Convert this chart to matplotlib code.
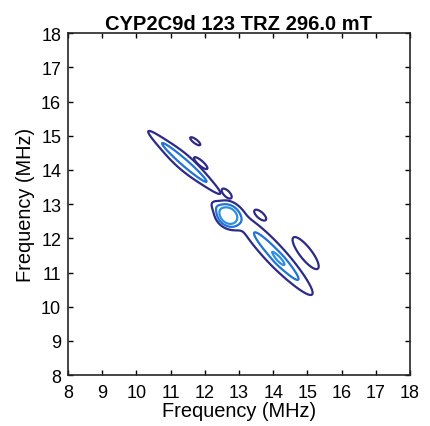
import numpy as np
import matplotlib
matplotlib.use("Agg")
import matplotlib.pyplot as plt

plt.rcParams['font.family'] = ['Liberation Sans', 'DejaVu Sans']

# Peaks: centre, spread along / across the ridge, ridge tilt, height
# peaks sharing a group number form one connected feature
peak_group = [0, 0, 1, 2, 3, 4, 4, 4, 4, 4, 5, 6]
peak_x = [11.40, 11.40, 11.72, 11.88, 12.64, 12.68, 12.33, 14.12, 13.98, 14.18, 13.62, 14.95]
peak_y = [14.22, 14.22, 14.84, 14.20, 13.31, 12.66, 12.93, 11.45, 11.60, 11.36, 12.68, 11.57]
sigma_long = [0.80, 1.10, 0.25, 0.35, 0.26, 0.21, 0.20, 0.69, 1.60, 0.18, 0.30, 0.80]
sigma_short = [0.07, 0.28, 0.08, 0.10, 0.12, 0.17, 0.11, 0.10, 0.34, 0.09, 0.13, 0.24]
tilt = [-41, -41, -37, -41, -45, -40, -40, -47, -47, -47, -41, -52]
height = [1.8, 1.35, 1.3, 1.3, 1.3, 6.5, 0.75, 2.1, 1.4, 0.5, 1.3, 1.3]

levels = [1.0, 2.0, 3.5]
level_colors = ['#2d2a88', '#1f74d6', '#2b8fe2']
ticks = list(range(8, 19))

f = np.linspace(8, 18, 601)
X, Y = np.meshgrid(f, f)

fig = plt.figure(figsize=(4.31, 4.27), dpi=100)
ax = fig.add_axes([0.158, 0.119, 0.793, 0.801])

for g in sorted(set(peak_group)):
    Z = np.zeros_like(X)
    for i in range(len(peak_group)):
        if peak_group[i] != g:
            continue
        t = np.deg2rad(tilt[i])
        dx, dy = X - peak_x[i], Y - peak_y[i]
        u = dx * np.cos(t) + dy * np.sin(t)
        v = -dx * np.sin(t) + dy * np.cos(t)
        Z += height[i] * np.exp(-0.5 * (u / sigma_long[i]) ** 2 - 0.5 * (v / sigma_short[i]) ** 2)
    ax.contour(X, Y, Z, levels=levels, colors=level_colors, linewidths=1.6)

ax.set_xlim(8, 18)
ax.set_ylim(8, 18)
ax.set_xticks(ticks)
ax.set_yticks(ticks)
ax.tick_params(axis='x', pad=6)
ax.tick_params(axis='y', pad=5)
ax.tick_params(direction='in', top=True, right=True, length=3.5, width=1,
               labelsize=13)
for s in ax.spines.values():
    s.set_linewidth(1.2)
    s.set_color('#262626')
ax.set_xlabel('Frequency (MHz)', fontsize=14.4, labelpad=0)
ax.set_ylabel('Frequency (MHz)', fontsize=14.4, labelpad=4)
ax.set_title('CYP2C9d 123 TRZ 296.0 mT', fontsize=14.5, fontweight='bold', pad=3)

fig.savefig('out.png', dpi=100)
